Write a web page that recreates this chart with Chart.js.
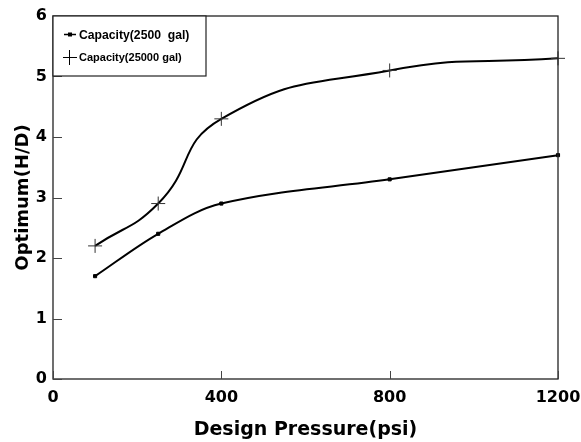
<!DOCTYPE html>
<html>
<head>
<meta charset="utf-8">
<script src="https://cdn.jsdelivr.net/npm/chart.js@4.4.1/dist/chart.umd.min.js"></script>
<style>
  html, body { margin: 0; padding: 0; background: #fff; }
  #wrap { width: 581px; height: 442px; position: relative; }
</style>
</head>
<body>
<div id="wrap"><canvas id="c" width="581" height="442"></canvas></div>
<script>
// Design pressure (psi) and optimum height/diameter ratios
const pressures = [100, 250, 400, 800, 1200];
const ratio2500 = [1.7, 2.4, 2.9, 3.3, 3.7];
const ratio25000 = [2.2, 2.9, 4.3, 5.1, 5.3];
const seriesNames = ['Capacity(2500  gal)', 'Capacity(25000 gal)'];
const xTicks = [0, 400, 800, 1200];
const yTicks = [0, 1, 2, 3, 4, 5, 6];

const FONT = '"Liberation Sans", Arial, sans-serif';
const WIDE = '"DejaVu Sans", sans-serif';

const toXY = (xs, ys) => xs.map((x, i) => ({ x: x, y: ys[i] }));

// Frame, inward tick marks and the boxed legend inside the plot
const framePlugin = {
  id: 'frame',
  afterDraw(chart) {
    const ctx = chart.ctx;
    const a = chart.chartArea;
    const xs = chart.scales.x, ys = chart.scales.y;
    ctx.save();
    ctx.strokeStyle = '#222';
    ctx.lineWidth = 1.3;
    ctx.strokeRect(a.left, a.top, a.right - a.left, a.bottom - a.top);
    ctx.lineWidth = 1;
    ctx.strokeStyle = '#444';
    yTicks.forEach(v => {
      const py = Math.round(ys.getPixelForValue(v)) + 0.5;
      ctx.beginPath(); ctx.moveTo(a.left, py); ctx.lineTo(a.left + 9, py); ctx.stroke();
    });
    xTicks.forEach(v => {
      const px = Math.round(xs.getPixelForValue(v)) + 0.5;
      ctx.beginPath(); ctx.moveTo(px, a.bottom); ctx.lineTo(px, a.bottom - 8); ctx.stroke();
    });

    // legend box
    const lx = a.left, ly = a.top, lw = 153, lh = 60;
    ctx.fillStyle = '#fff';
    ctx.fillRect(lx, ly, lw, lh);
    ctx.strokeStyle = '#222';
    ctx.lineWidth = 1.2;
    ctx.strokeRect(lx, ly, lw, lh);

    ctx.fillStyle = '#000';
    ctx.strokeStyle = '#000';
    // item 1: line with small square
    ctx.lineWidth = 1.5;
    ctx.beginPath(); ctx.moveTo(lx + 11, ly + 18.5); ctx.lineTo(lx + 23, ly + 18.5); ctx.stroke();
    ctx.fillRect(lx + 15, ly + 16.5, 4, 4);
    ctx.font = 'bold 12.2px ' + FONT;
    ctx.textBaseline = 'middle';
    ctx.textAlign = 'left';
    ctx.fillText(seriesNames[0], lx + 26, ly + 20);
    // item 2: plus marker
    ctx.lineWidth = 1;
    ctx.beginPath();
    ctx.moveTo(lx + 10, ly + 41.5); ctx.lineTo(lx + 24, ly + 41.5);
    ctx.moveTo(lx + 16.5, ly + 34); ctx.lineTo(lx + 16.5, ly + 49);
    ctx.stroke();
    ctx.font = 'bold 11px ' + FONT;
    ctx.fillText(seriesNames[1], lx + 26, ly + 42);
    ctx.restore();
  }
};

new Chart(document.getElementById('c'), {
  type: 'line',
  data: {
    datasets: [
      {
        label: seriesNames[0],
        data: toXY(pressures, ratio2500),
        borderColor: '#000',
        backgroundColor: '#000',
        borderWidth: 2,
        pointStyle: 'rect',
        pointRadius: 2.2,
        pointBorderWidth: 1,
        tension: 0.35,
        clip: false
      },
      {
        label: seriesNames[1],
        data: toXY(pressures, ratio25000),
        borderColor: '#000',
        backgroundColor: '#000',
        borderWidth: 2,
        pointStyle: 'cross',
        pointRadius: 7,
        pointBorderWidth: 1,
        pointBorderColor: '#333',
        tension: 0.5,
        clip: false
      }
    ]
  },
  options: {
    responsive: false,
    animation: false,
    layout: { padding: { left: 0, top: 16, right: 23, bottom: 0 } },
    plugins: { legend: { display: false }, tooltip: { enabled: false } },
    scales: {
      x: {
        type: 'linear',
        min: 0, max: 1200,
        afterFit(s) { s.height = 63; s.paddingLeft = 0; s.paddingRight = 0; },
        afterBuildTicks(s) { s.ticks = xTicks.map(v => ({ value: v })); },
        grid: { display: false, drawTicks: false },
        border: { display: false },
        ticks: { color: '#000', font: { family: WIDE, size: 16, weight: 'bold' }, padding: 9, maxRotation: 0,
                 callback: v => String(v) },
        title: { display: true, text: 'Design Pressure(psi)', color: '#000',
                 font: { family: WIDE, size: 19, weight: 'bold' }, padding: { top: 0, bottom: 1 } }
      },
      y: {
        type: 'linear',
        min: 0, max: 6,
        afterFit(s) { s.width = 53; s.paddingTop = 0; s.paddingBottom = 0; },
        afterBuildTicks(s) { s.ticks = yTicks.map(v => ({ value: v })); },
        grid: { display: false, drawTicks: false },
        border: { display: false },
        ticks: { color: '#000', font: { family: WIDE, size: 16, weight: 'bold' }, padding: 6,
                 callback: v => String(v) },
        title: { display: true, text: 'Optimum(H/D)', color: '#000',
                 font: { family: WIDE, size: 18, weight: 'bold' }, padding: { top: 13, bottom: 0 } }
      }
    }
  },
  plugins: [framePlugin]
});
</script>
</body>
</html>
